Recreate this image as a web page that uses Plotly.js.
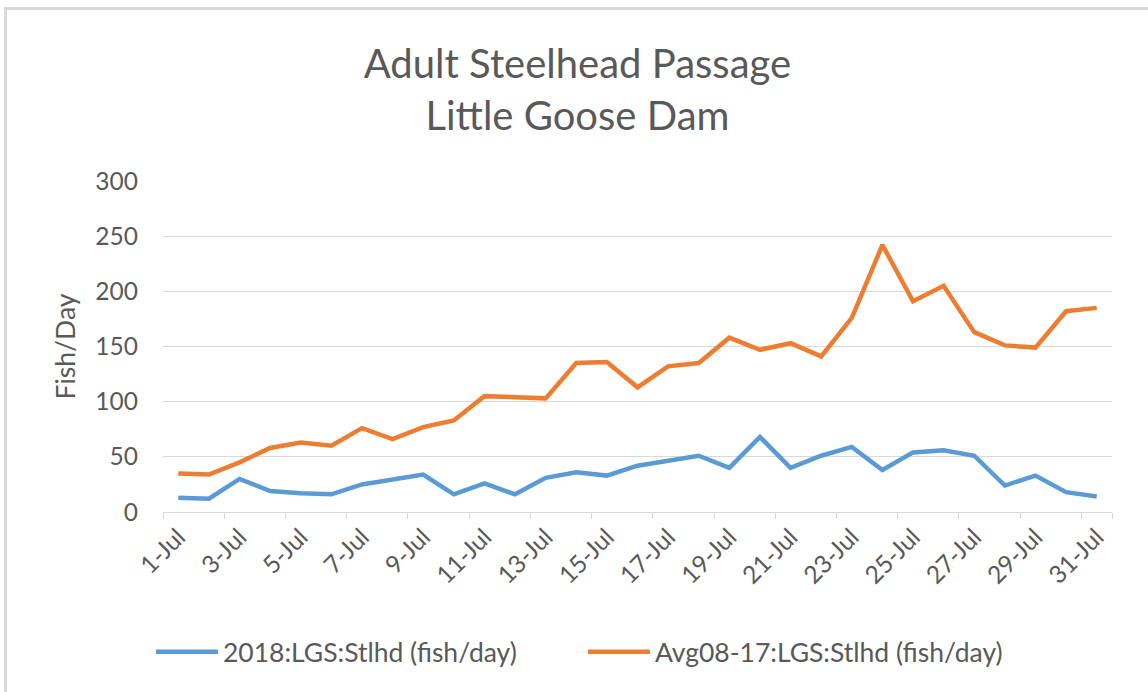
<!DOCTYPE html>
<html>
<head>
<meta charset="utf-8">
<script src="https://cdn.plot.ly/plotly-3.0.1.min.js"></script>
<style>
  html, body { margin: 0; padding: 0; background: #ffffff; }
  #wrap { position: relative; width: 1148px; height: 692px; overflow: hidden; }
  #chart { position: absolute; left: 0; top: 0; width: 1148px; height: 692px; }
  #frame { position: absolute; left: 4px; top: 7px; width: 1200px; height: 800px;
           border-left: 3px solid #d9d9d9; border-top: 3px solid #d9d9d9; pointer-events: none; }
</style>
</head>
<body>
<div id="wrap">
  <div id="chart"></div>
  <div id="frame"></div>
</div>
<script>
const days = ["1-Jul","2-Jul","3-Jul","4-Jul","5-Jul","6-Jul","7-Jul","8-Jul","9-Jul","10-Jul",
  "11-Jul","12-Jul","13-Jul","14-Jul","15-Jul","16-Jul","17-Jul","18-Jul","19-Jul","20-Jul",
  "21-Jul","22-Jul","23-Jul","24-Jul","25-Jul","26-Jul","27-Jul","28-Jul","29-Jul","30-Jul","31-Jul"];

const fish2018 = [13, 12, 30, 19, 17, 16, 25, 29, 34, 16,
  26, 16, 31, 36, 33, 42, 47, 51, 40, 68,
  40, 51, 59, 38, 54, 56, 51, 24, 33, 18, 14];

const avg0817 = [35, 34, 45, 58, 63, 60, 76, 66, 77, 83,
  105, 104, 103, 135, 136, 113, 132, 135, 158, 147,
  153, 141, 176, 242, 191, 205, 163, 151, 149, 182, 185];

const seriesNames = ["2018:LGS:Stlhd (fish/day)", "Avg08-17:LGS:Stlhd (fish/day)"];

const FONT = "Lato, 'Open Sans', sans-serif";
const TXT = "#595959";

const traces = [
  { x: days, y: fish2018, type: "scatter", mode: "lines", name: seriesNames[0],
    line: { color: "#5B9BD5", width: 4.5, shape: "linear" } },
  { x: days, y: avg0817, type: "scatter", mode: "lines", name: seriesNames[1],
    line: { color: "#ED7D31", width: 4.5, shape: "linear" } }
];

const layout = {
  width: 1148, height: 692,
  paper_bgcolor: "#ffffff", plot_bgcolor: "#ffffff",
  margin: { l: 163, r: 36, t: 181, b: 180 },
  font: { family: FONT, color: TXT, size: 25 },
  title: {
    text: "Adult Steelhead Passage<br>Little Goose Dam",
    font: { family: FONT, size: 40, color: TXT },
    xref: "container", x: 0.503, xanchor: "center",
    yref: "container", y: 1 - 78 / 692, yanchor: "middle"
  },
  xaxis: {
    type: "category",
    categoryorder: "array", categoryarray: days,
    range: [-0.5, 30.5],
    tickmode: "array",
    tickvals: days.filter((d, i) => i % 2 === 0),
    ticktext: days.filter((d, i) => i % 2 === 0),
    tickson: "boundaries",
    ticks: "outside", ticklen: 6, tickcolor: "#d9d9d9", tickwidth: 1,
    tickangle: -45,
    tickfont: { family: FONT, size: 24.5, color: TXT },
    showline: true, linecolor: "#d9d9d9", linewidth: 1,
    showgrid: false, zeroline: false, fixedrange: true
  },
  yaxis: {
    range: [0, 300],
    tickmode: "array", tickvals: [0, 50, 100, 150, 200, 250, 300],
    ticks: "", ticklabelstandoff: 24,
    tickfont: { family: FONT, size: 24.5, color: TXT },
    showgrid: true, gridcolor: "#d9d9d9", gridwidth: 1,
    zeroline: false, showline: false, fixedrange: true,
    title: { text: "Fish/Day", font: { family: FONT, size: 26.5, color: TXT }, standoff: 12 }
  },
  showlegend: true,
  legend: {
    orientation: "h", x: -0.0127, xanchor: "left", y: -0.423, yanchor: "middle",
    font: { family: FONT, size: 26.5, color: TXT },
    itemwidth: 62, entrywidth: 355, entrywidthmode: "pixels",
    traceorder: "normal", bgcolor: "rgba(0,0,0,0)"
  }
};

Plotly.newPlot("chart", traces, layout, { staticPlot: true, displayModeBar: false });
</script>
</body>
</html>
